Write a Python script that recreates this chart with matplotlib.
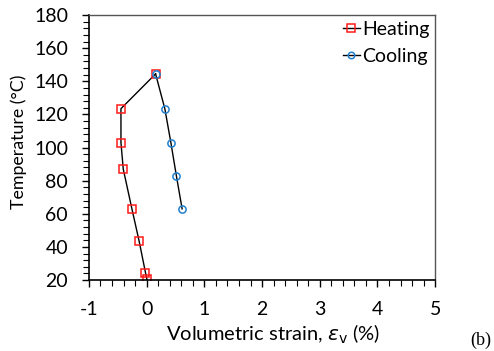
import matplotlib
matplotlib.use("Agg")
import matplotlib.pyplot as plt
from matplotlib.ticker import MultipleLocator

plt.rcParams['font.family'] = ['Lato', 'DejaVu Sans']
plt.rcParams['mathtext.fontset'] = 'dejavusans'
plt.rcParams['axes.unicode_minus'] = False

# Volumetric strain (%) and temperature (°C)
heating_strain = [0.005, -0.02, -0.13, -0.255, -0.405, -0.445, -0.445, 0.155]
heating_temp = [20.5, 24.5, 43.5, 63, 87, 103, 123.5, 144.5]
cooling_strain = [0.155, 0.315, 0.42, 0.515, 0.615]
cooling_temp = [144.5, 123.5, 103, 83, 63]

fig = plt.figure(figsize=(4.94, 3.51), dpi=100)
ax = fig.add_axes([0.180, 0.202, 0.701, 0.755])

ax.plot(heating_strain, heating_temp, color='black', lw=1.0, marker='s',
        ms=5.8, mfc='none', mec='#FF1A1A', mew=1.1, label='Heating')
ax.plot(cooling_strain, cooling_temp, color='black', lw=1.0, marker='o',
        ms=5.2, mfc='none', mec='#2080D0', mew=1.1, label='Cooling')

ax.set_xlim(-1, 5)
ax.set_ylim(20, 180)
ax.xaxis.set_major_locator(MultipleLocator(1))
ax.xaxis.set_minor_locator(MultipleLocator(0.2))
ax.yaxis.set_major_locator(MultipleLocator(20))
ax.yaxis.set_minor_locator(MultipleLocator(4))
ax.tick_params(which='major', direction='out', length=5, width=1, labelsize=14)
ax.tick_params(axis='y', which='major', pad=10)
ax.tick_params(axis='x', which='major', pad=10)
ax.tick_params(which='minor', direction='out', length=4, width=0.8)

for s in ['left', 'bottom']:
    ax.spines[s].set_color('black')
    ax.spines[s].set_linewidth(1.2)
for s in ['top', 'right']:
    ax.spines[s].set_color('#555555')
    ax.spines[s].set_linewidth(1.0)

ax.set_xlabel('Volumetric strain, $\\varepsilon_{\\mathrm{v}}$ (%)', fontsize=14.5)
ax.set_ylabel('Temperature (°C)', fontsize=12.8)
ax.xaxis.set_label_coords(0.532, -0.204)
ax.yaxis.set_label_coords(-0.204, 0.52)
ax.xaxis.label.set_va('center')
ax.yaxis.label.set_va('center')

ax.legend(loc='upper right', frameon=False, fontsize=14, handlelength=0.9,
          handletextpad=0.1, borderaxespad=0.1, labelspacing=0.5,
          borderpad=0.2, markerscale=0.9)

fig.text(0.974, 0.031, '(b)', fontsize=13, family='Liberation Serif',
         ha='center', va='center')

fig.savefig('out.png', dpi=100)
